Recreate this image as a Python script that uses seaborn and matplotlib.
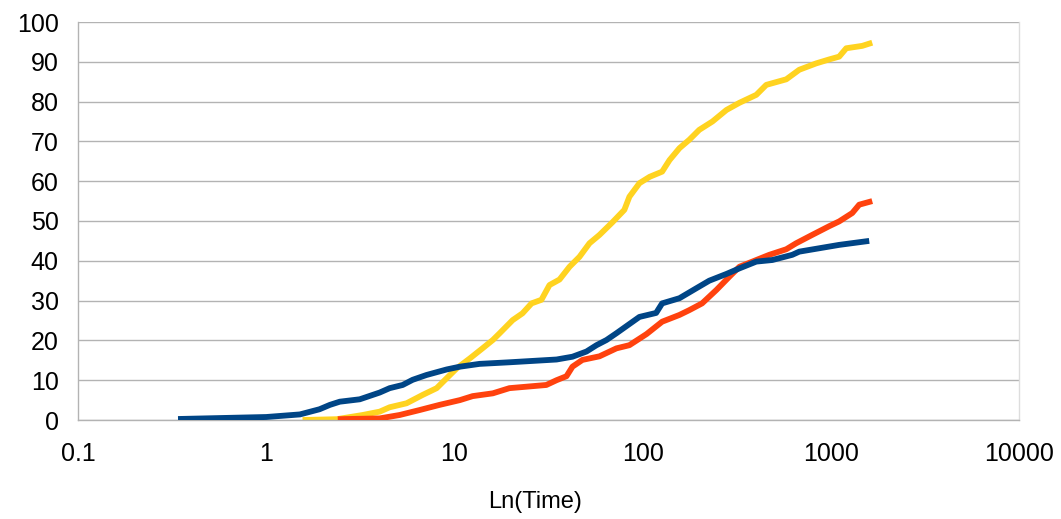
import numpy as np
import pandas as pd
import matplotlib
matplotlib.use("Agg")
import matplotlib.pyplot as plt
import seaborn as sns
from matplotlib.ticker import FixedLocator, FixedFormatter, NullLocator

# ---- data ----
blue_t = [0.34, 1.0, 1.51, 1.92, 2.18, 2.46, 3.14, 4.01, 4.53, 5.31, 6.0, 7.1, 9.1, 10.7,
          13.6, 19.6, 34.9, 42.4, 50.3, 56.9, 64.3, 72.6, 96.2, 118, 127, 157, 193, 226,
          279, 327, 402, 489, 624, 680, 1108, 1600]
blue_y = [0.25, 0.75, 1.4, 2.7, 3.8, 4.6, 5.2, 6.9, 8.0, 8.8, 10.1, 11.3, 12.7, 13.4,
          14.1, 14.5, 15.2, 15.9, 17.2, 18.8, 20.1, 21.8, 25.9, 26.9, 29.3, 30.6, 33.1, 35.0,
          36.7, 38.1, 39.8, 40.2, 41.5, 42.3, 44.0, 45.0]

yellow_t = [1.56, 2.37, 3.26, 4.01, 4.53, 5.57, 6.78, 8.05, 9.1, 10.3, 12.1, 14.1, 16.0,
            17.4, 20.4, 23.0, 25.7, 29.0, 32.0, 36.2, 40.9, 46.2, 52.2, 59.0, 69.2, 80.0,
            85.1, 96.2, 109, 127, 139, 157, 177, 200, 235, 279, 327, 402, 454, 580, 680,
            836, 981, 1108, 1208, 1469, 1660]
yellow_y = [0.0, 0.2, 1.26, 2.1, 3.2, 4.2, 6.3, 8.0, 10.5, 13.0, 15.5, 18.0, 20.1,
            21.8, 25.1, 26.8, 29.3, 30.2, 33.9, 35.3, 38.5, 41.0, 44.4, 46.5, 49.7, 52.8,
            56.1, 59.5, 61.1, 62.4, 65.3, 68.3, 70.4, 72.9, 75.0, 77.9, 79.7, 81.7, 84.2,
            85.6, 88.0, 89.6, 90.6, 91.3, 93.4, 94.0, 94.8]

red_t = [2.40, 4.01, 5.12, 6.53, 8.34, 10.7, 12.5, 16.0, 19.6, 30.8, 34.9, 39.4, 42.4,
         47.9, 59.0, 72.6, 85.1, 105, 127, 157, 177, 207, 247, 289, 327, 383, 471, 580,
         654, 796, 981, 1108, 1300, 1416, 1660]
red_y = [0.2, 0.4, 1.26, 2.5, 3.8, 5.0, 6.0, 6.7, 8.0, 8.8, 10.0, 11.0, 13.4,
         15.1, 16.0, 18.0, 18.8, 21.6, 24.7, 26.4, 27.6, 29.3, 32.7, 36.0, 38.5, 39.8,
         41.5, 42.9, 44.4, 46.5, 48.7, 49.9, 52.0, 54.1, 55.0]

x_ticks = [0.1, 1, 10, 100, 1000, 10000]
x_tick_labels = ["0.1", "1", "10", "100", "1000", "10000"]
y_ticks = list(range(0, 101, 10))
x_label = "Ln(Time)"

# ---- style ----
sns.set_theme(style="white")
plt.rcParams["font.family"] = ["Liberation Sans", "DejaVu Sans"]

fig = plt.figure(figsize=(10.61, 5.19), dpi=100)
ax = fig.add_axes([78 / 1061, 1 - 420 / 519, (1019 - 78) / 1061, (420 - 22) / 519])

series = [
    ("yellow", yellow_t, yellow_y, "#ffd320", 2),
    ("red", red_t, red_y, "#ff420e", 3),
    ("blue", blue_t, blue_y, "#004586", 4),
]
for name, t, y, col, z in series:
    df = pd.DataFrame({"t": t, "y": y})
    sns.lineplot(data=df, x="t", y="y", ax=ax, color=col, linewidth=4.2,
                 sort=False, estimator=None, zorder=z, solid_capstyle="butt")

ax.set_xscale("log")
ax.set_xlim(0.1, 10000)
ax.set_ylim(0, 100)
ax.xaxis.set_major_locator(FixedLocator(x_ticks))
ax.xaxis.set_major_formatter(FixedFormatter(x_tick_labels))
ax.xaxis.set_minor_locator(NullLocator())
ax.set_yticks(y_ticks)
ax.set_yticklabels([str(v) for v in y_ticks])

grid_col = "#b3b3b3"
ax.yaxis.grid(True, color=grid_col, linewidth=1.0, zorder=0)
ax.xaxis.grid(False)
ax.set_axisbelow(True)

ax.spines["top"].set_visible(False)
for side in ["left", "bottom"]:
    ax.spines[side].set_color(grid_col)
    ax.spines[side].set_linewidth(1.0)
ax.spines["right"].set_color("#dddddd")
ax.spines["right"].set_linewidth(1.0)

ax.tick_params(axis="both", which="major", direction="out", length=7.5, width=1.0,
               color=grid_col, labelsize=18, labelcolor="black")
ax.tick_params(axis="y", pad=6.5)
ax.tick_params(axis="x", pad=8)

ax.set_ylabel("")
ax.set_xlabel(x_label, fontsize=17, color="black")
ax.xaxis.set_label_coords((535 - 78) / 941, (420 - 502) / 398)
ax.xaxis.label.set_va("center")

fig.savefig("out.png", dpi=100, facecolor="white")
